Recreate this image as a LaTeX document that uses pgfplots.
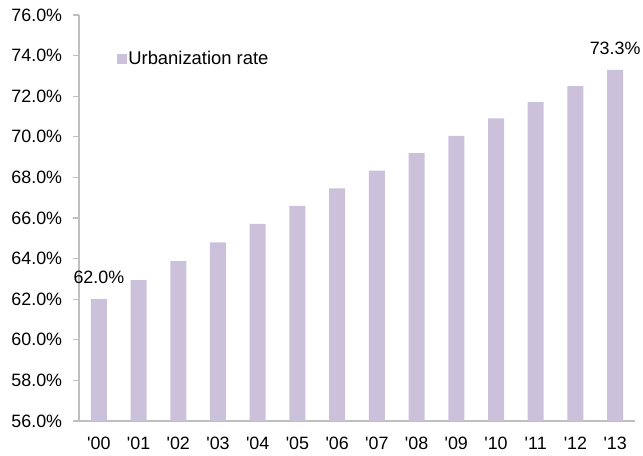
\documentclass[border=0pt]{standalone}
\usepackage{pgfplots}
\pgfplotsset{compat=1.18}
\usepackage{fontspec}
\setmainfont{Liberation Sans}[Ligatures=TeXOff]
\definecolor{barcol}{HTML}{CCC1DA}
\definecolor{axcol}{HTML}{BFBFBF}
\newcommand{\fs}{\fontsize{13.4pt}{16pt}\selectfont}
\begin{document}
\fs
\begin{tikzpicture}
\path[use as bounding box] (-59.25pt,-26.25pt) rectangle (423pt,315.75pt);
\begin{axis}[
  scale only axis,
  width=417pt, height=304.5pt,
  at={(0,0)}, anchor=south west,
  xmin=-0.5, xmax=13.5,
  ymin=56, ymax=76,
  ytick={56,58,...,76},
  xtick={0,...,13},
  xticklabels={'00,'01,'02,'03,'04,'05,'06,'07,'08,'09,'10,'11,'12,'13},
  axis x line*=bottom,
  axis y line*=left,
  axis line style={draw=axcol, line width=0.8pt},
  tick align=outside,
  major tick length=4.5pt,
  ytick style={draw=axcol, line width=0.8pt},
  xtick style={draw=none},
  /pgf/number format/assume math mode=true,
  yticklabel={\pgfmathprintnumber[fixed,fixed zerofill,precision=1]{\tick}\%},
  ticklabel style={font=\fs, text=black},
  yticklabel style={xshift=-3.5pt},
  xticklabel style={yshift=-3pt},
  ybar,
  bar width=12pt,
  nodes near coords,
  point meta=explicit symbolic,
  every node near coord/.append style={font=\fs, text=black, yshift=7pt},
  legend style={at={(0.0674,0.892)}, anchor=west, draw=none, fill=none, inner sep=0pt,
    font=\fontsize{13.8pt}{16pt}\selectfont, text=black,
    nodes={inner sep=1.2pt}},
  legend image code/.code={\fill[barcol] (0pt,-3.75pt) rectangle (7.5pt,3.75pt);},
]
\addplot[fill=barcol, draw=none] table[meta=lab] {
x y lab
0 62.0 62.0\%
1 62.94 {}
2 63.88 {}
3 64.8 {}
4 65.71 {}
5 66.6 {}
6 67.46 {}
7 68.33 {}
8 69.2 {}
9 70.05 {}
10 70.91 {}
11 71.71 {}
12 72.5 {}
13 73.3 73.3\%
};
\addlegendentry{Urbanization rate}
\end{axis}
\end{tikzpicture}
\end{document}
